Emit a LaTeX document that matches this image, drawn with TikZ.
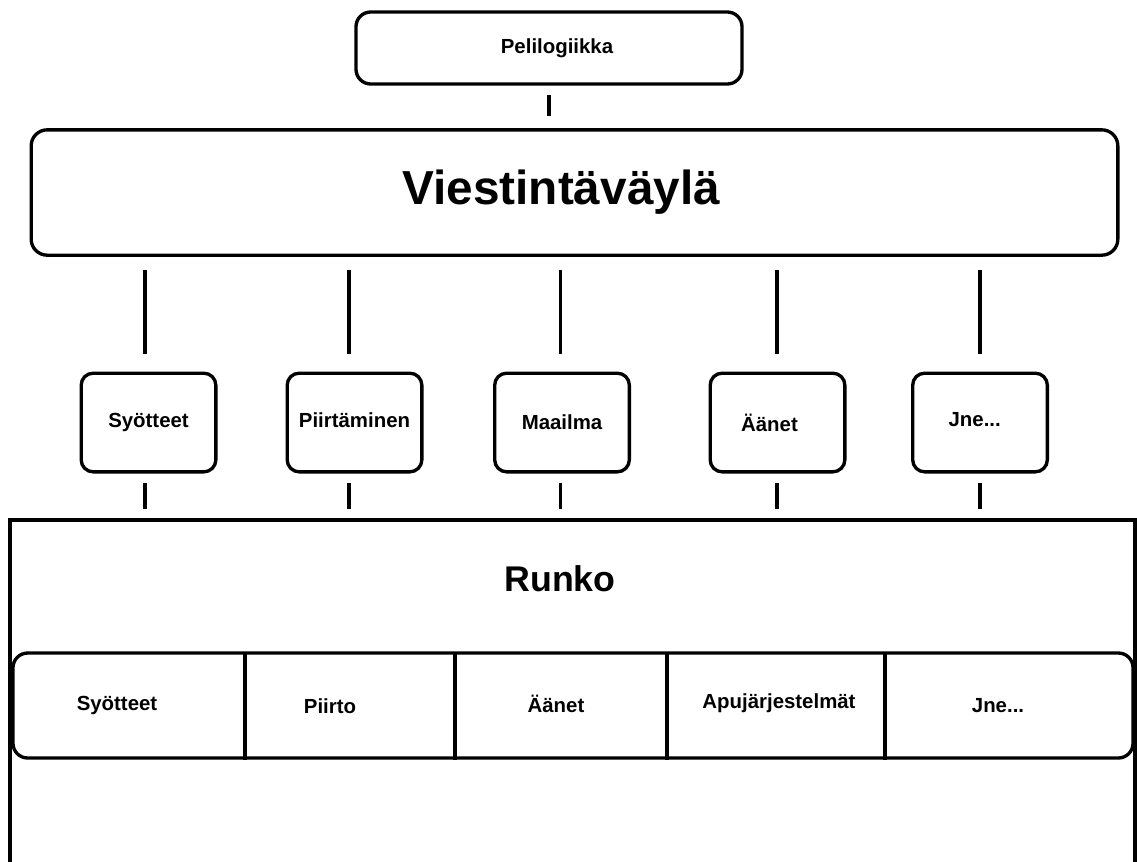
\documentclass[tikz,border=0pt]{standalone}
\usepackage{fontspec}
\setmainfont{Liberation Sans}
\begin{document}
\begin{tikzpicture}[x=0.75pt,y=-0.75pt,
  box/.style={draw,line width=2.5pt,rounded corners=11pt,inner sep=0pt,font=\bfseries\fontsize{15.3}{18}\selectfont},
  smallbox/.style={box,rounded corners=9pt,minimum width=101pt,minimum height=74pt},
  cell/.style={font=\bfseries\fontsize{15.3}{18}\selectfont,inner sep=0pt},
  conn/.style={line width=2.6pt}]
\useasboundingbox (0,0) rectangle (1137,861);
\clip (0,0) rectangle (1137,861);
\fill[white] (0,0) rectangle (1137,861);
% top
\node[box,minimum width=289.5pt,minimum height=54pt] (peli) at (549,48) {\hspace*{12pt}Pelilogiikka};
\node[box,rounded corners=12pt,minimum width=815pt,minimum height=94pt,font=\bfseries\fontsize{35.8}{40}\selectfont] (vv) at (574.5,192.5) {\hspace*{-20pt}Viestintäväylä};
\draw[conn,shorten <=7pt,shorten >=9pt] (peli.south) -- (vv.north -| peli.south);
% small boxes
\node[smallbox] (s1) at (148.5,422.5) {\raisebox{3pt}{Syötteet}};
\node[smallbox] (s2) at (354.5,422.5) {\raisebox{3pt}{Piirtäminen}};
\node[smallbox] (s3) at (562,422.5) {Maailma};
\node[smallbox] (s4) at (777.5,422.5) {\hspace*{-12pt}Äänet};
\node[smallbox] (s5) at (980,422.5) {\hspace*{-8pt}\raisebox{4pt}{Jne...}};
% runko frame
\coordinate (rl) at (10,520);
\coordinate (rr) at (1135,520);
\draw[line width=2.6pt] (10,880) -- (rl) -- (rr) -- (1135,880);
\node[font=\bfseries\fontsize{26.8}{30}\selectfont] (runko) at (560,579) {Runko};
\foreach \n/\dx in {s1/-2.5,s2/-4,s3/-1,s4/-0.5,s5/0}{
  \draw[conn,shorten <=13pt,shorten >=10pt] ([xshift=\dx pt]\n.north) -- ([xshift=\dx pt]vv.south -| \n.north);
  \draw[conn,shorten <=7pt,shorten >=8pt] ([xshift=\dx pt]\n.south) -- ([xshift=\dx pt]rl -| \n.south);
}
% inner row
\node[box,rounded corners=11pt,minimum width=840pt,minimum height=78.75pt] (row) at (573,705.5) {};
\foreach \x/\nm in {245/d1,455/d2,667/d3,885/d4}{
  \coordinate (\nm) at (\x,653);
  \draw[conn] (\nm) -- (row.south -| \nm);
}
\node[cell] (c1) at (117,705) {Syötteet};
\node[cell] (c2) at (330,706) {Piirto};
\node[cell] (c3) at (556,704) {Äänet};
\node[cell] (c4) at (779,703) {Apujärjestelmät};
\node[cell] (c5) at (998,706) {Jne...};
\end{tikzpicture}
\end{document}
